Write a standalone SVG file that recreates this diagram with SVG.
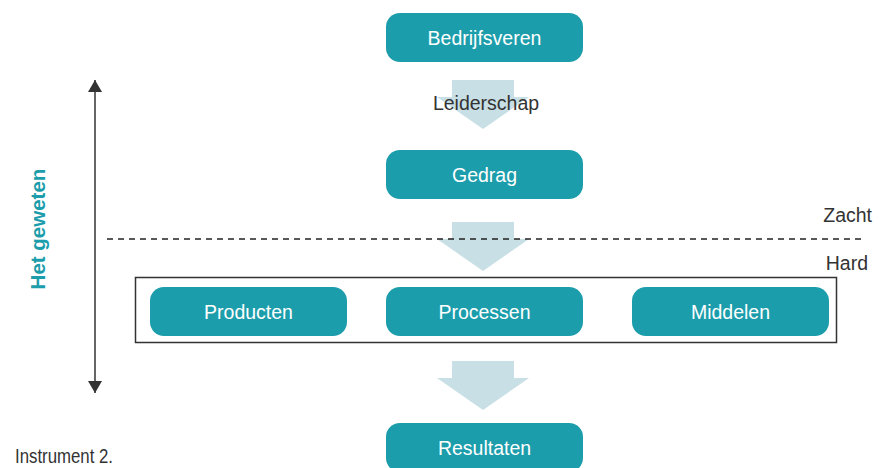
<svg xmlns="http://www.w3.org/2000/svg" width="885" height="468" viewBox="0 0 885 468">
<style>
.box{fill:#1c9dab;}
.bt{fill:#ffffff;font-family:"Liberation Sans",Arial,sans-serif;font-size:19.5px;text-anchor:middle;}
.lbl{fill:#333333;font-family:"Liberation Sans",Arial,sans-serif;font-size:19.5px;}
.flow{fill:#c7dfe5;}
.ln{stroke:#333333;stroke-width:1.5;fill:none;}
</style>
<defs>
<path id="bigArrow" d="M15,0 H77 V17 H92 L46,49 L0,17 H15 Z"/>
<marker id="head" markerUnits="userSpaceOnUse" markerWidth="12" markerHeight="14" refX="12" refY="7" orient="auto-start-reverse">
<path d="M0,0 L12,7 L0,14 Z" fill="#333333"/>
</marker>
</defs>
<rect x="0" y="0" width="885" height="468" fill="#ffffff"/>
<g id="connectors">
<use href="#bigArrow" class="flow" x="437" y="80"/>
<use href="#bigArrow" class="flow" x="437" y="222"/>
<use href="#bigArrow" class="flow" x="437" y="361"/>
<line class="ln" x1="95" y1="393" x2="95" y2="80" marker-start="url(#head)" marker-end="url(#head)"/>
<line x1="107" y1="239" x2="862" y2="239" stroke="#222222" stroke-width="1.3" stroke-dasharray="6 5"/>
</g>
<g id="label-leiderschap"><text class="lbl" x="486" y="110" text-anchor="middle">Leiderschap</text></g>
<g id="label-zacht"><text class="lbl" x="872" y="222" text-anchor="end">Zacht</text></g>
<g id="label-hard"><text class="lbl" x="868" y="270" text-anchor="end">Hard</text></g>
<g id="hard-frame"><rect class="ln" x="135.5" y="277.5" width="701" height="65"/></g>
<g id="bedrijfsveren"><rect class="box" x="386" y="13" width="197" height="49" rx="14"/><text class="bt" x="484.5" y="44.5">Bedrijfsveren</text></g>
<g id="gedrag"><rect class="box" x="386" y="150" width="197" height="49" rx="14"/><text class="bt" x="484.5" y="181.5">Gedrag</text></g>
<g id="producten"><rect class="box" x="150" y="287" width="197" height="49" rx="14"/><text class="bt" x="248.5" y="318.5">Producten</text></g>
<g id="processen"><rect class="box" x="386" y="287" width="197" height="49" rx="14"/><text class="bt" x="484.5" y="318.5">Processen</text></g>
<g id="middelen"><rect class="box" x="632" y="287" width="197" height="49" rx="14"/><text class="bt" x="730.5" y="318.5">Middelen</text></g>
<g id="resultaten"><rect class="box" x="386" y="423" width="197" height="49" rx="14"/><text class="bt" x="484.5" y="454.5">Resultaten</text></g>
<g id="het-geweten"><text x="45" y="229" transform="rotate(-90 45 229)" text-anchor="middle" fill="#1c9dab" font-family="'Liberation Sans',Arial,sans-serif" font-weight="bold" font-size="20.5">Het geweten</text></g>
<g id="caption"><text class="lbl" x="15" y="463" font-size="19" textLength="98" lengthAdjust="spacingAndGlyphs">Instrument 2.</text></g>
</svg>
